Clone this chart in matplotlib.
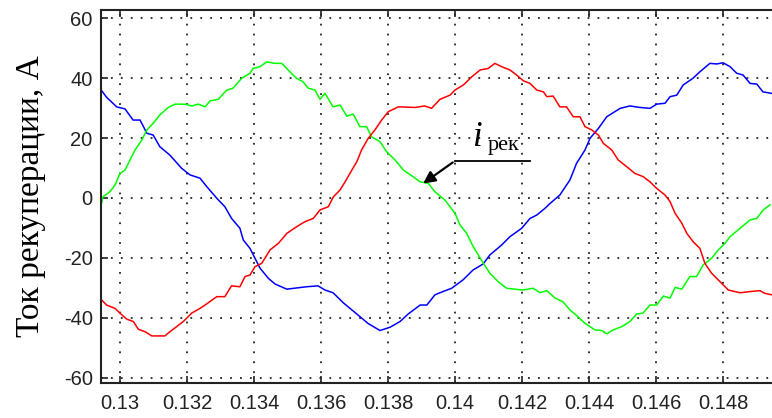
import matplotlib
matplotlib.use('Agg')
import matplotlib.pyplot as plt

plt.rcParams['axes.unicode_minus'] = False

# phase currents (time in s, current in A)
t_blue = [0.12940, 0.12960, 0.12990, 0.13015, 0.13039, 0.13060, 0.13080, 0.13099,
          0.13119, 0.13149, 0.13184, 0.13209, 0.13239, 0.13259, 0.13289, 0.13313,
          0.13333, 0.13358, 0.13368, 0.13388, 0.13403, 0.13418, 0.13443, 0.13463,
          0.13498, 0.13557, 0.13591, 0.13612, 0.13636, 0.13666, 0.13707, 0.13740,
          0.13776, 0.13806, 0.13836, 0.13860, 0.13896, 0.13916, 0.13940, 0.13964,
          0.13990, 0.14024, 0.14054, 0.14084, 0.14104, 0.14139, 0.14164, 0.14199,
          0.14224, 0.14244, 0.14269, 0.14284, 0.14313, 0.14343, 0.14363, 0.14388,
          0.14403, 0.14428, 0.14453, 0.14493, 0.14522, 0.14552, 0.14582, 0.14602,
          0.14627, 0.14642, 0.14662, 0.14681, 0.14710, 0.14731, 0.14761, 0.14781,
          0.14800, 0.14821, 0.14841, 0.14860, 0.14881, 0.14901, 0.14919, 0.14945]
i_blue = [36.6, 33.6, 30.4, 29.7, 26.0, 26.0, 21.6, 21.0,
          17.1, 14.3, 9.9, 7.7, 6.6, 3.8, -0.1, -2.9,
          -6.8, -10.1, -14.0, -16.8, -20.1, -23.4, -26.8, -28.7,
          -30.4, -29.6, -29.3, -30.7, -31.6, -34.9, -38.7, -41.8,
          -44.2, -43.1, -41.2, -38.7, -35.7, -35.7, -32.3, -31.2,
          -30.1, -27.3, -24.0, -22.0, -19.0, -15.7, -12.9, -10.1,
          -6.8, -5.7, -3.4, -1.8, 1.0, 6.0, 11.6, 16.0,
          19.9, 23.2, 27.1, 29.9, 30.7, 30.2, 29.9, 31.3,
          31.6, 33.8, 34.3, 37.7, 39.9, 42.1, 44.9, 44.7,
          45.1, 43.8, 41.6, 41.0, 38.2, 38.0, 35.4, 34.9]

t_green = [0.12945, 0.12949, 0.12970, 0.12985, 0.13000, 0.13015, 0.13030, 0.13045,
           0.13065, 0.13080, 0.13099, 0.13119, 0.13144, 0.13164, 0.13194, 0.13214,
           0.13234, 0.13254, 0.13269, 0.13293, 0.13319, 0.13337, 0.13363, 0.13388,
           0.13397, 0.13418, 0.13438, 0.13463, 0.13483, 0.13507, 0.13527, 0.13546,
           0.13562, 0.13582, 0.13597, 0.13612, 0.13636, 0.13657, 0.13677, 0.13696,
           0.13716, 0.13736, 0.13751, 0.13776, 0.13796, 0.13821, 0.13846, 0.13871,
           0.13896, 0.13920, 0.13940, 0.13970, 0.14000, 0.14015, 0.14035, 0.14054,
           0.14085, 0.14104, 0.14129, 0.14154, 0.14203, 0.14233, 0.14254, 0.14274,
           0.14299, 0.14322, 0.14343, 0.14367, 0.14388, 0.14418, 0.14438, 0.14453,
           0.14472, 0.14498, 0.14522, 0.14542, 0.14561, 0.14582, 0.14602, 0.14622,
           0.14642, 0.14657, 0.14677, 0.14701, 0.14721, 0.14741, 0.14766, 0.14786,
           0.14806, 0.14821, 0.14851, 0.14881, 0.14901, 0.14920, 0.14940]
i_green = [-1.8, 0.4, 2.1, 4.3, 8.2, 9.3, 12.7, 16.0,
           19.3, 22.7, 24.9, 27.7, 30.2, 31.3, 31.3, 30.7,
           31.3, 30.4, 32.4, 32.9, 36.0, 36.6, 39.9, 41.6,
           43.2, 43.8, 45.4, 44.9, 44.9, 42.1, 39.9, 38.8,
           36.6, 36.0, 32.9, 34.9, 30.4, 31.0, 27.3, 28.0,
           23.8, 23.8, 20.4, 18.8, 15.4, 12.7, 9.3, 7.4,
           5.4, 4.9, 2.1, -0.7, -5.1, -9.0, -11.8, -16.2,
           -21.8, -25.1, -27.9, -30.1, -30.7, -30.1, -31.6, -30.9,
           -33.4, -34.6, -37.3, -39.6, -41.8, -44.0, -44.2, -45.3,
           -44.0, -42.9, -41.2, -38.7, -38.4, -35.7, -35.7, -32.7,
           -33.4, -29.8, -30.4, -26.2, -26.2, -22.3, -20.1, -17.3,
           -15.1, -12.9, -10.1, -7.3, -6.8, -4.0, -2.3]

t_red = [0.12940, 0.12960, 0.12985, 0.13000, 0.13020, 0.13040, 0.13055, 0.13075,
         0.13095, 0.13134, 0.13149, 0.13169, 0.13189, 0.13214, 0.13239, 0.13259,
         0.13289, 0.13313, 0.13333, 0.13358, 0.13373, 0.13388, 0.13403, 0.13423,
         0.13448, 0.13473, 0.13498, 0.13527, 0.13552, 0.13577, 0.13597, 0.13622,
         0.13637, 0.13657, 0.13672, 0.13692, 0.13707, 0.13721, 0.13741, 0.13761,
         0.13781, 0.13801, 0.13831, 0.13881, 0.13910, 0.13930, 0.13955, 0.13985,
         0.14000, 0.14025, 0.14050, 0.14075, 0.14099, 0.14119, 0.14139, 0.14164,
         0.14184, 0.14204, 0.14224, 0.14244, 0.14264, 0.14274, 0.14293, 0.14313,
         0.14333, 0.14353, 0.14373, 0.14388, 0.14408, 0.14428, 0.14443, 0.14468,
         0.14487, 0.14513, 0.14537, 0.14562, 0.14582, 0.14602, 0.14627, 0.14642,
         0.14657, 0.14677, 0.14692, 0.14711, 0.14731, 0.14746, 0.14766, 0.14791,
         0.14816, 0.14851, 0.14881, 0.14910, 0.14925, 0.14946]
i_red = [-33.4, -35.7, -36.8, -38.4, -40.4, -41.2, -43.8, -44.6,
         -46.0, -46.0, -44.6, -42.9, -41.2, -38.4, -36.8, -35.3,
         -32.9, -32.9, -29.3, -29.6, -26.2, -25.7, -22.9, -21.8,
         -17.3, -15.1, -11.8, -9.6, -7.9, -6.8, -4.0, -2.9,
         0.4, 2.7, 5.4, 9.3, 12.1, 16.0, 19.9, 22.7,
         26.0, 28.8, 30.4, 30.2, 30.7, 29.9, 32.9, 34.3,
         36.0, 37.7, 40.4, 42.7, 43.2, 44.9, 43.8, 42.7,
         41.0, 39.1, 38.2, 36.0, 35.4, 33.8, 34.0, 30.4,
         30.4, 27.1, 27.1, 23.8, 22.7, 21.0, 18.2, 16.0,
         12.7, 10.4, 8.2, 7.1, 5.4, 3.2, 1.0, -1.2,
         -5.1, -8.4, -11.8, -14.6, -16.8, -21.8, -25.1, -27.9,
         -30.7, -31.6, -31.2, -30.9, -31.8, -32.3]

x_ticks = [0.130, 0.132, 0.134, 0.136, 0.138, 0.140, 0.142, 0.144, 0.146, 0.148]
x_tick_labels = ['0.13', '0.132', '0.134', '0.136', '0.138', '0.14',
                 '0.142', '0.144', '0.146', '0.148']
y_ticks = [-60, -40, -20, 0, 20, 40, 60]

fig = plt.figure(figsize=(7.72, 4.18), dpi=100)
ax = fig.add_axes([101 / 772, 1 - 383 / 418, (776 - 101) / 772, (383 - 10) / 418])

ax.plot(t_blue, i_blue, color='#0000ff', lw=1.1)
ax.plot(t_green, i_green, color='#00ff00', lw=1.1)
ax.plot(t_red, i_red, color='#ff0000', lw=1.1)

ax.set_xlim(0.129433, 0.149582)
ax.set_ylim(-61.7, 62.7)
ax.set_xticks(x_ticks)
ax.set_xticklabels(x_tick_labels)
ax.set_yticks(y_ticks)

ax.grid(True, color='#222222', lw=1.3, linestyle=(0, (1, 4.5)))
ax.tick_params(direction='in', length=5, width=1.2, top=True, right=False,
               labelsize=14.5, colors='#222222')
ax.tick_params(axis='x', pad=8)
ax.tick_params(axis='y', pad=6)
for lab in ax.get_xticklabels() + ax.get_yticklabels():
    lab.set_fontfamily('Liberation Sans')
for side in ['left', 'top', 'bottom', 'right']:
    ax.spines[side].set_linewidth(1.5)
    ax.spines[side].set_color('#222222')

fig.text(0.040, 0.53, 'Ток рекуперации, А', rotation=90, ha='center', va='center',
         fontsize=24, family='Liberation Serif')

# label with leader line and arrow
ax.plot([0.14000, 0.14224], [12.4, 12.4], color='k', lw=1.3)
ax.annotate('', xy=(0.13898, 4.3), xytext=(0.14000, 12.4),
            arrowprops=dict(arrowstyle='-|>', color='k', lw=1.6, mutation_scale=18))
ax.text(0.14052, 17.3, 'i', fontsize=25, family='Liberation Serif', style='italic',
        ha='left', va='baseline')
ax.text(0.14098, 16.0, 'рек', fontsize=16, family='Liberation Serif',
        ha='left', va='baseline')

plt.savefig('out.png', dpi=100)
